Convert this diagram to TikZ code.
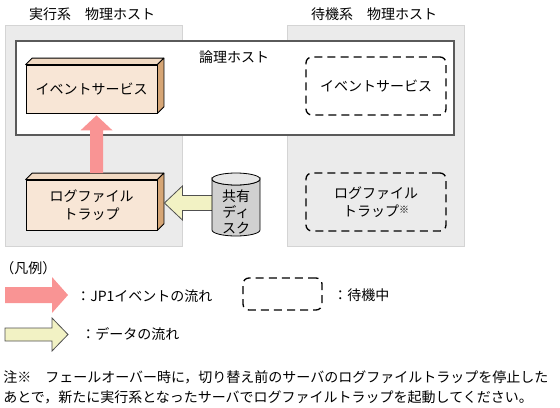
\documentclass[tikz,border=0pt]{standalone}
\usepackage{fontspec}
\setmainfont{Noto Sans CJK JP}
\usetikzlibrary{fit,calc}
\definecolor{hostgray}{HTML}{EBEBEB}
\definecolor{hostedge}{HTML}{D4D4D4}
\definecolor{lhedge}{HTML}{5A5A5A}
\definecolor{peach}{HTML}{F8E6D6}
\definecolor{peachtop}{HTML}{F1D9C2}
\definecolor{tanside}{HTML}{D6A676}
\definecolor{pinkarrow}{HTML}{F99494}
\definecolor{yellowarrow}{HTML}{F2F2C4}
\definecolor{arrowedge}{HTML}{505050}
\definecolor{diskgray}{HTML}{D0D0D0}
\definecolor{disktop}{HTML}{E6E6E6}
\tikzset{
  jp/.style={font=\fontsize{10.5pt}{12pt}\selectfont},
  physhost/.style={inner sep=0pt, fill=hostgray, draw=hostedge, line width=0.6pt},
  loghost/.style={inner sep=0pt, fill=white, draw=lhedge, line width=1.1pt},
  frontbox/.style={inner sep=0pt, fill=peach, draw=black, line width=0.6pt, jp, align=center},
  standbybox/.style={inner sep=0pt, draw=black, line width=1pt, dash pattern=on 6pt off 3.8pt, rounded corners=4.5pt, jp, align=center},
  pinkshape/.style={fill=pinkarrow, draw=none},
  yellowshape/.style={fill=yellowarrow, draw=arrowedge, line width=0.6pt, line join=miter},
  plain/.style={inner sep=0pt, jp}
}
\newcommand\depthfaces[1]{%
  \filldraw[fill=peachtop, draw=black, line width=0.6pt, line join=round]
    (#1.north west) -- ++(6.5,-6.5) -- ($(#1.north east)+(6.5,-6.5)$) -- (#1.north east) -- cycle;
  \filldraw[fill=tanside, draw=black, line width=0.6pt, line join=round]
    (#1.north east) -- ++(6.5,-6.5) -- ($(#1.south east)+(6.5,-6.5)$) -- (#1.south east) -- cycle;}
\begin{document}
\begin{tikzpicture}[x=0.75pt,y=-0.75pt]
\useasboundingbox (0,0) rectangle (560,407);
% physical hosts
\node[physhost, fit={(5,25) (182,246)}] (activehost) {};
\node[physhost, fit={(287,25) (464,246)}] (standbyhost) {};
\node[plain] (activetitle) at (92,14) {実行系　物理ホスト};
\node[plain] (standbytitle) at (374,14) {待機系　物理ホスト};
% logical host
\node[loghost, fit={(16,41) (454,135)}] (logical) {};
\node[plain] (logicaltitle) at (234,57) {論理ホスト};
% active boxes
\node[frontbox, fit={(26,65) (157,113)}] (es) {};
\node[plain] (estext) at (es.center) {イベントサービス};
\depthfaces{es}
\node[frontbox, fit={(26,180) (157,230)}] (lt) {};
\node[plain, align=center] (lttext) at (lt.center) {ログファイル\\[1.5pt]トラップ};
\depthfaces{lt}
% standby boxes
\node[standbybox, fit={(306,57) (446,115)}] (ses) {};
\node[plain] (sestext) at (ses.center) {イベントサービス};
\node[standbybox, fit={(306,173) (446,231)}] (slt) {};
\node[plain, align=center] (slttext) at (slt.center) {ログファイル\\[1.5pt]トラップ\raisebox{2.5pt}{\fontsize{7.5pt}{8pt}\selectfont ※}};
% pink arrow (JP1 event flow)
\coordinate (pa1) at ($(lt.north)+(5,-6.5)$);
\coordinate (pa2) at ($(es.south)+(5,2)$);
\fill[pinkshape] ($(pa1)+(-6.5,0)$) -- ($(pa2)+(-6.5,15)$) -- ($(pa2)+(-16,15)$) -- (pa2)
  -- ($(pa2)+(16,15)$) -- ($(pa2)+(6.5,15)$) -- ($(pa1)+(6.5,0)$) -- cycle;
% shared disk
\node[inner sep=0pt, fit={(212,173) (260,236)}] (disk) {};
\coordinate (ya2) at ($(lt.east)+(7,-2)$);
\coordinate (ya1) at ($(disk.west |- ya2)+(2,0)$);
\filldraw[yellowshape] ($(ya1)+(0,-7.5)$) -- ($(ya2)+(18,-7.5)$) -- ($(ya2)+(18,-17)$) -- (ya2)
  -- ($(ya2)+(18,17)$) -- ($(ya2)+(18,7.5)$) -- ($(ya1)+(0,7.5)$);
\filldraw[fill=diskgray, draw=black, line width=0.6pt]
  (212,179) -- (212,230) arc[start angle=180, end angle=0, x radius=24, y radius=6]
  -- (260,179) arc[start angle=0, end angle=180, x radius=24, y radius=6] -- cycle;
\filldraw[fill=disktop, draw=black, line width=0.6pt] (236,179) ellipse [x radius=24, y radius=6];
\node[plain, align=center, font=\fontsize{10.5pt}{12pt}\selectfont] (disktext) at (236,212) {共有\\ディ\\スク};
% legend
\node[plain, anchor=west] (legendtitle) at (0,268) {（凡例）};
\coordinate (lp) at (68,295);
\fill[pinkshape] (5,287) -- (52,287) -- (52,277) -- (lp) -- (52,313) -- (52,303) -- (5,303) -- cycle;
\node[plain, anchor=west] (lptext) at (76,296) {：JP1イベントの流れ};
\coordinate (ly) at (68,334.5);
\filldraw[yellowshape] (5,328) -- (52,328) -- (52,318) -- (ly) -- (52,351) -- (52,341) -- (5,341) -- cycle;
\node[plain, anchor=west] (lytext) at (81,334) {：データの流れ};
\node[standbybox, fit={(243,278) (322,310)}] (lsb) {};
\node[plain, anchor=west] (lsbtext) at (333,295) {：待機中};
% note
\node[plain, anchor=west, align=left, font=\fontsize{10.5pt}{15pt}\selectfont] (note) at (3,387)
  {注※　フェールオーバー時に，切り替え前のサーバのログファイルトラップを停止した\\あとで，新たに実行系となったサーバでログファイルトラップを起動してください。};
\end{tikzpicture}
\end{document}
